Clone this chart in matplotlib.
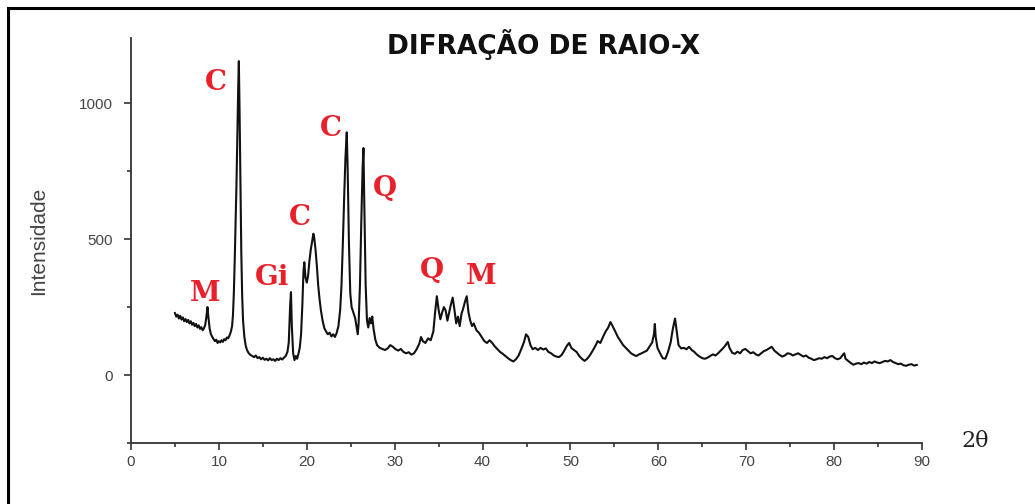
import numpy as np
import matplotlib
matplotlib.use("Agg")
from matplotlib import pyplot as plt
from matplotlib.patches import Rectangle
from matplotlib.ticker import MultipleLocator

two_theta = [
    5.0, 5.15, 5.3, 5.45, 5.6, 5.75, 5.9, 6.05, 6.2, 6.35, 6.5, 6.65, 6.8, 6.95, 7.1, 7.25, 7.4, 7.55, 7.7, 7.85,
    8.0, 8.15, 8.3, 8.45, 8.6, 8.7, 8.8, 8.95, 9.1, 9.25, 9.4, 9.55, 9.7, 9.85, 10.0, 10.15, 10.3, 10.45, 10.6, 10.75,
    10.9, 11.05, 11.2, 11.35, 11.5, 11.6, 11.7, 11.8, 11.9, 12.0, 12.1, 12.2, 12.27, 12.35, 12.45, 12.55, 12.65, 12.75, 12.9, 13.05,
    13.2, 13.4, 13.6, 13.8, 14.0, 14.2, 14.4, 14.6, 14.8, 15.0, 15.2, 15.4, 15.6, 15.8, 16.0, 16.2, 16.4, 16.6, 16.8, 17.0,
    17.2, 17.4, 17.6, 17.8, 17.95, 18.1, 18.2, 18.3, 18.45, 18.6, 18.75, 18.9, 19.05, 19.2, 19.35, 19.5, 19.62, 19.72, 19.85, 20.0,
    20.15, 20.3, 20.45, 20.6, 20.75, 20.85, 21.0, 21.15, 21.3, 21.45, 21.6, 21.8, 22.0, 22.2, 22.4, 22.6, 22.8, 23.0, 23.2, 23.4,
    23.6, 23.8, 23.95, 24.1, 24.25, 24.4, 24.55, 24.65, 24.8, 24.95, 25.1, 25.3, 25.5, 25.65, 25.8, 25.9, 26.05, 26.2, 26.35, 26.45,
    26.55, 26.7, 26.85, 27.0, 27.15, 27.3, 27.45, 27.6, 27.8, 28.0, 28.3, 28.6, 28.9, 29.2, 29.5, 29.8, 30.1, 30.4, 30.7, 31.0,
    31.3, 31.6, 31.9, 32.2, 32.5, 32.8, 33.0, 33.2, 33.5, 33.8, 34.1, 34.4, 34.6, 34.8, 35.0, 35.2, 35.4, 35.6, 35.8, 36.0,
    36.2, 36.4, 36.6, 36.8, 37.0, 37.2, 37.4, 37.6, 37.8, 38.0, 38.2, 38.4, 38.6, 38.8, 39.0, 39.3, 39.6, 39.9, 40.2, 40.5,
    40.8, 41.1, 41.4, 41.7, 42.0, 42.3, 42.6, 42.9, 43.2, 43.5, 43.8, 44.1, 44.4, 44.7, 44.95, 45.2, 45.45, 45.7, 46.0, 46.3,
    46.6, 46.9, 47.2, 47.5, 47.8, 48.1, 48.4, 48.7, 49.0, 49.3, 49.6, 49.85, 50.1, 50.4, 50.7, 51.0, 51.3, 51.6, 51.9, 52.2,
    52.5, 52.8, 53.1, 53.4, 53.7, 54.0, 54.3, 54.55, 54.8, 55.1, 55.4, 55.7, 56.0, 56.3, 56.6, 56.9, 57.2, 57.5, 57.8, 58.1,
    58.4, 58.7, 59.0, 59.3, 59.5, 59.6, 59.7, 59.9, 60.2, 60.5, 60.8, 61.1, 61.4, 61.65, 61.9, 62.1, 62.3, 62.6, 62.9, 63.2,
    63.5, 63.8, 64.1, 64.4, 64.7, 65.0, 65.3, 65.6, 65.9, 66.2, 66.5, 66.8, 67.1, 67.4, 67.65, 67.9, 68.1, 68.4, 68.7, 69.0,
    69.3, 69.6, 69.9, 70.2, 70.5, 70.8, 71.1, 71.4, 71.7, 72.0, 72.3, 72.6, 72.9, 73.2, 73.5, 73.8, 74.1, 74.4, 74.7, 75.0,
    75.3, 75.6, 75.9, 76.2, 76.5, 76.8, 77.1, 77.4, 77.7, 78.0, 78.3, 78.6, 78.9, 79.2, 79.5, 79.8, 80.1, 80.4, 80.7, 81.0,
    81.15, 81.3, 81.6, 81.9, 82.2, 82.5, 82.8, 83.1, 83.4, 83.7, 84.0, 84.3, 84.6, 84.9, 85.2, 85.5, 85.8, 86.1, 86.4, 86.7,
    87.0, 87.3, 87.6, 87.9, 88.2, 88.5, 88.8, 89.1, 89.4,
]
intensidade = [
    228, 215, 222, 208, 218, 204, 212, 198, 206, 195, 203, 190, 198, 185, 192, 180, 188, 175, 183, 170,
    176, 165, 172, 185, 220, 250, 215, 170, 150, 140, 132, 125, 130, 118, 125, 120, 128, 122, 132, 128,
    138, 135, 145, 158, 180, 220, 300, 420, 560, 700, 880, 1060, 1155, 980, 700, 450, 290, 200, 140, 108,
    92, 80, 74, 70, 66, 72, 62, 66, 58, 64, 56, 60, 54, 62, 55, 58, 52, 60, 55, 62,
    57, 64, 70, 85, 120, 250, 305, 180, 80, 55, 70, 60, 78, 100, 150, 260, 380, 415, 360, 340,
    365, 420, 460, 490, 520, 505, 460, 400, 330, 280, 240, 200, 172, 160, 150, 156, 142, 150, 140, 155,
    180, 240, 330, 480, 650, 800, 893, 760, 480, 300, 250, 230, 210, 180, 150, 190, 330, 560, 760, 835,
    620, 330, 200, 175, 210, 190, 215, 170, 130, 110, 100, 96, 92, 98, 110, 104, 95, 90, 96, 85,
    80, 84, 75, 80, 95, 115, 140, 125, 118, 135, 128, 160, 230, 290, 240, 205, 230, 250, 238, 200,
    230, 260, 285, 240, 190, 215, 180, 225, 245, 270, 290, 230, 200, 180, 190, 165, 155, 140, 125, 118,
    128, 118, 105, 95, 85, 78, 70, 62, 55, 50, 58, 72, 95, 120, 150, 140, 110, 95, 100, 92,
    100, 94, 98, 85, 80, 72, 68, 66, 74, 90, 108, 118, 100, 92, 85, 70, 60, 52, 60, 72,
    88, 105, 125, 118, 140, 160, 175, 195, 180, 160, 140, 125, 110, 100, 90, 80, 74, 70, 76, 80,
    85, 90, 105, 120, 150, 188, 140, 100, 80, 62, 60, 85, 120, 170, 208, 160, 110, 98, 100, 95,
    104, 92, 85, 75, 68, 62, 60, 64, 70, 76, 72, 80, 90, 100, 110, 122, 100, 82, 78, 86,
    80, 92, 96, 88, 80, 84, 76, 72, 80, 88, 92, 98, 104, 90, 82, 74, 68, 72, 80, 78,
    72, 76, 80, 74, 68, 72, 64, 60, 55, 58, 62, 60, 66, 62, 68, 70, 62, 58, 62, 75,
    80, 60, 52, 44, 38, 42, 44, 40, 46, 42, 48, 44, 50, 46, 44, 48, 52, 50, 55, 48,
    44, 40, 42, 36, 34, 38, 40, 35, 37,
]

# rotulos das fases: texto, 2theta, intensidade
rotulos = ["C", "C", "C", "Gi", "M", "Q", "Q", "M"]
rot_x = [9.66, 22.7, 19.2, 16.1, 8.4, 28.9, 34.2, 39.9]
rot_y = [1078, 907, 578, 359, 300, 685, 385, 363]

W, H = 1035, 504
fig = plt.figure(figsize=(W / 100, H / 100), dpi=100)
ax = fig.add_axes([131 / W, 1 - 443 / H, (922 - 131) / W, (443 - 38) / H])

ax.plot(two_theta, intensidade, color='#111111', lw=1.5)

ax.set_xlim(0, 90)
ax.set_ylim(-250, 1240)
ax.xaxis.set_major_locator(MultipleLocator(10))
ax.xaxis.set_minor_locator(MultipleLocator(5))
ax.yaxis.set_major_locator(MultipleLocator(500))
ax.yaxis.set_minor_locator(MultipleLocator(250))

for s in ['top', 'right']:
    ax.spines[s].set_visible(False)
for s in ['left', 'bottom']:
    ax.spines[s].set_color('#333333')
    ax.spines[s].set_linewidth(1.3)
ax.tick_params(which='both', colors='#333333', width=1.2, labelsize=11,
               labelcolor='#444444')
ax.tick_params(which='major', length=5)
ax.tick_params(which='minor', length=3)
ax.tick_params(axis='y', pad=8)
for lab in ax.get_xticklabels() + ax.get_yticklabels():
    lab.set_family('Liberation Sans')

ax.set_ylabel("Intensidade", fontsize=15, color='#444444',
              family=['Liberation Sans Narrow', 'Liberation Sans'], labelpad=22)

for t, x, y in zip(rotulos, rot_x, rot_y):
    ax.text(x, y, t, color='#e8202a', fontsize=20, fontweight='bold',
            family='DejaVu Serif', ha='center', va='center')

fig.text(544 / W, 1 - 45 / H, "DIFRAÇÃO DE RAIO-X", fontsize=19, fontweight='heavy',
         family='DejaVu Sans', ha='center', va='center', color='#111111')
fig.text(975 / W, 1 - 441 / H, "2θ", fontsize=16, family='DejaVu Serif',
         ha='center', va='center', color='#222222')

# moldura da figura original
fig.patches.append(Rectangle((8 / W, -0.2), 1.5, 1.2 - 8 / H, transform=fig.transFigure,
                             fill=False, lw=2.2, edgecolor='black'))

fig.savefig('out.png', dpi=100)
